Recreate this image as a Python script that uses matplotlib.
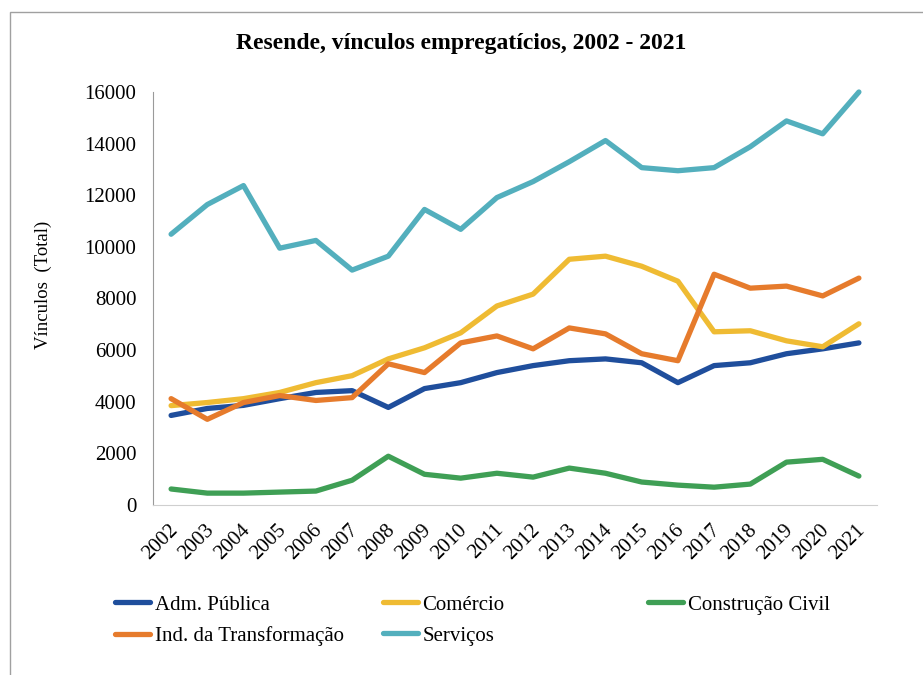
import matplotlib.pyplot as plt
from matplotlib.patches import Rectangle
import matplotlib.transforms as mtransforms

plt.rcParams['font.family'] = ['Liberation Serif', 'DejaVu Serif']

# data
anos = [str(a) for a in range(2002, 2022)]
adm_publica = [3470, 3740, 3860, 4120, 4360, 4430, 3780, 4510, 4740, 5130,
               5400, 5590, 5660, 5510, 4740, 5400, 5510, 5860, 6050, 6280]
comercio = [3850, 3970, 4120, 4360, 4740, 5010, 5660, 6090, 6670, 7710,
            8170, 9520, 9640, 9250, 8670, 6710, 6750, 6360, 6130, 7020]
construcao = [620, 460, 460, 500, 540, 960, 1890, 1190, 1040, 1230,
              1080, 1430, 1230, 890, 770, 690, 810, 1660, 1770, 1120]
industria = [4120, 3320, 3970, 4240, 4050, 4160, 5470, 5130, 6280, 6550,
             6050, 6860, 6630, 5860, 5590, 8940, 8400, 8480, 8100, 8790]
servicos = [10490, 11640, 12375, 9950, 10250, 9100, 9640, 11450, 10680, 11910,
            12530, 13300, 14120, 13070, 12950, 13070, 13880, 14880, 14380, 16000]
y_ticks = [0, 2000, 4000, 6000, 8000, 10000, 12000, 14000, 16000]

series = [
    ('Adm. Pública', adm_publica, '#1f4e9c'),
    ('Comércio', comercio, '#efbb33'),
    ('Construção Civil', construcao, '#3f9f55'),
    ('Ind. da Transformação', industria, '#e67b2c'),
    ('Serviços', servicos, '#53afbd'),
]

W, H = 923, 675
fig = plt.figure(figsize=(W / 100, H / 100), dpi=100)
ax = fig.add_axes([153 / W, 1 - 505 / H, (877 - 153) / W, (505 - 92) / H])

x = list(range(len(anos)))
handles = {}
for nome, valores, cor in series:
    ln, = ax.plot(x, valores, color=cor, lw=3.8, solid_joinstyle='round',
                  solid_capstyle='round', clip_on=False, label=nome)
    handles[nome] = ln

ax.set_xlim(-0.5, len(anos) - 0.5)
ax.set_ylim(0, 16000)
ax.set_yticks(y_ticks)
ax.set_yticklabels([str(v) for v in y_ticks], fontsize=15)
ax.set_xticks(x)
ax.set_xticklabels(anos, fontsize=15, rotation=45, ha='right',
                   rotation_mode='anchor')
ax.tick_params(axis='y', length=0, pad=12)
ax.tick_params(axis='x', length=0, pad=11)
# nudge the slanted year labels so they end right under their point
offset = mtransforms.ScaledTranslation(-3 / 100, 0, fig.dpi_scale_trans)
for lbl in ax.get_xticklabels():
    lbl.set_transform(lbl.get_transform() + offset)

for s in ['top', 'right']:
    ax.spines[s].set_visible(False)
ax.spines['left'].set_color('#9a9a9a')
ax.spines['bottom'].set_color('#cfcfcf')

fig.text(461 / W, 1 - 43 / H, 'Resende, vínculos empregatícios, 2002 - 2021',
         ha='center', va='center', fontsize=17, fontweight='bold')
fig.text(43 / W, 1 - 285 / H, 'Vínculos  (Total)', rotation=90,
         ha='center', va='center', fontsize=13.5)

# legend laid out like the Excel one: three columns, rows filled left to right
colunas = [
    (115, ['Adm. Pública', 'Ind. da Transformação']),
    (383, ['Comércio', 'Serviços']),
    (648, ['Construção Civil']),
]
for xpos, nomes in colunas:
    leg = fig.legend([handles[n] for n in nomes], nomes, loc='upper left',
                     bbox_to_anchor=(xpos / W, 1 - 595 / H), frameon=False,
                     fontsize=15, handlelength=1.7, handletextpad=0.2,
                     labelspacing=0.55, borderpad=0, borderaxespad=0)
    for h in leg.legend_handles:
        h.set_linewidth(3.8)

# outer border of the original chart area
fig.add_artist(Rectangle((10 / W, -0.5), 2, 1.5 - 12 / H, transform=fig.transFigure,
                         fill=False, edgecolor='#a0a0a0', lw=1))

fig.savefig('out.png', dpi=100)
